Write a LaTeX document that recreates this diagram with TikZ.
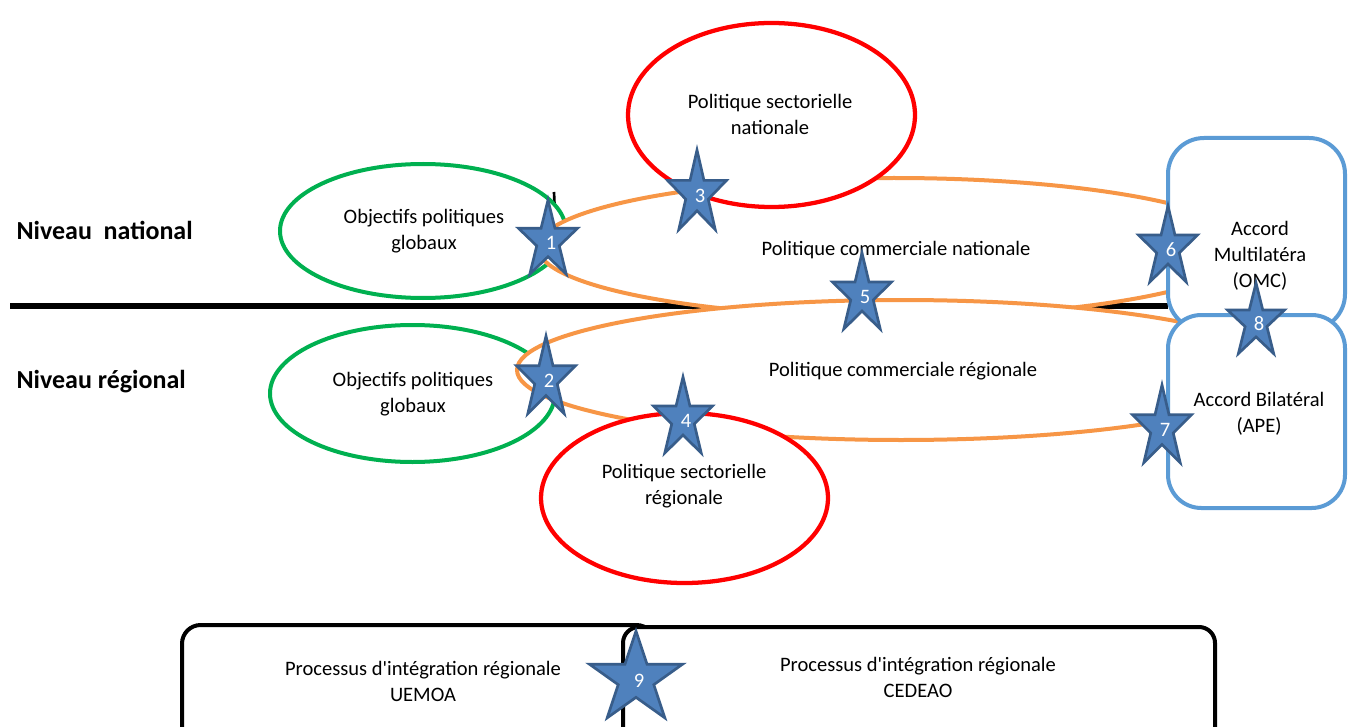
\documentclass[tikz,border=0pt]{standalone}
\usepackage{fontspec}
\setmainfont{Carlito}
\definecolor{vertobj}{HTML}{00B050}
\definecolor{rougesect}{HTML}{FF0000}
\definecolor{orangecom}{HTML}{F79646}
\definecolor{bleuaccord}{HTML}{5B9BD5}
\definecolor{etoilefond}{HTML}{4F81BD}
\definecolor{etoiletrait}{HTML}{385D8A}

\tikzset{every picture/.style={line width=0.75pt}}

\begin{document}
\begin{tikzpicture}[x=0.75pt,y=0.75pt,yscale=-1,xscale=1,
  txt/.style={inner sep=0.75pt, align=center, font=\fontsize{15.4}{19.5}\selectfont},
  niveau/.style={anchor=base west, inner sep=0pt, font=\fontsize{19.5}{23}\selectfont\bfseries},
  etoile/.style={fill=etoilefond, draw=etoiletrait, line width=2pt, line join=miter},
  chiffre/.style={text=white, inner sep=0pt, font=\fontsize{15.4}{15.4}\selectfont}]
	\useasboundingbox (0,0) rectangle (1348,727);
	\clip (0,0) rectangle (1348,727);
	
	%Straight Lines
	\draw [line width=4.5pt]  (10,306) -- (1168,306) ;
	%Straight Lines
	\draw [line width=2pt]  (554,192) -- (554.5,204) ;
	
	%Shape: Ellipse
	\draw [color=vertobj, line width=3pt]  (423,231) ellipse [x radius=143, y radius=67] ;
	%Shape: Ellipse
	\draw [color=vertobj, line width=3pt]  (412.5,393.5) ellipse [x radius=142.5, y radius=68.5] ;
	%Shape: Ellipse
	\draw [color=orangecom, fill=white, line width=3pt]  (894,247.5) ellipse [x radius=356, y radius=69.5] ;
	%Shape: Ellipse
	\draw [color=orangecom, fill=white, line width=3pt]  (901,370) ellipse [x radius=384, y radius=70] ;
	%Shape: Ellipse
	\draw [color=rougesect, fill=white, line width=3.2pt]  (771.5,115) ellipse [x radius=143.5, y radius=92] ;
	%Shape: Ellipse
	\draw [color=rougesect, fill=white, line width=3.2pt]  (684.5,498) ellipse [x radius=143.5, y radius=85] ;
	
	%Rounded Rect
	\draw [color=bleuaccord, fill=white, line width=3pt, rounded corners=27pt]  (1168,138) rectangle (1345,330) ;
	%Rounded Rect
	\draw [color=bleuaccord, fill=white, line width=3pt, rounded corners=25pt]  (1168,315) rectangle (1345,508) ;
	%Rounded Rect
	\draw [fill=white, line width=3pt, rounded corners=14pt]  (182,625) rectangle (655,760) ;
	%Rounded Rect
	\draw [fill=white, line width=3pt, rounded corners=12pt]  (623,627) rectangle (1215,760) ;
	
	% Text Node
	\node [niveau] (nivnat) at (16,240) {Niveau\ \ national};
	% Text Node
	\node [niveau] (nivreg) at (16,388) {Niveau régional};
	% Text Node
	\node [txt] (objnat) at (424,231) {Objectifs politiques\\globaux};
	% Text Node
	\node [txt] (objreg) at (413,394) {Objectifs politiques\\globaux};
	% Text Node
	\node [txt] (sectnat) at (770,114) {Politique sectorielle\\nationale};
	% Text Node
	\node [txt] (sectreg) at (684,486) {Politique sectorielle\\régionale};
	% Text Node
	\node [txt] (comnat) at (896,250) {Politique commerciale nationale};
	% Text Node
	\node [txt] (comreg) at (903,371) {Politique commerciale régionale};
	% Text Node
	\node [txt] (omc) at (1260,256) {Accord\\Multilatéra\\(OMC)};
	% Text Node
	\node [txt] (ape) at (1259,414) {Accord Bilatéral\\(APE)};
	% Text Node
	\node [txt] (uemoa) at (423,681) {Processus d\textquotesingle intégration régionale\\UEMOA};
	% Text Node
	\node [txt] (cedeao) at (918,677) {Processus d\textquotesingle intégration régionale\\CEDEAO};
	
	%Shape: Star
	\foreach \sx/\sy/\rx/\ry/\num in {548/241/31/41/1, 546/379/31/43/2, 697/194/31/44/3, 683/419/31/42/4, 862/295/31/42/5, 1168/248/31/42/6, 1162/428/31/43/7, 1256/322/30/39/8, 636/679/49/48/9}{
		\draw [etoile] plot [samples at={0,...,9}, variable=\k] ({\sx+\rx*(0.691+0.309*cos(180*\k))*cos(-90+36*\k)}, {\sy+\ry*(0.691+0.309*cos(180*\k))*sin(-90+36*\k)}) -- cycle ;
		\node [chiffre] (s\num) at (\sx+3,\sy+2) {\num};
	}
	
\end{tikzpicture}
\end{document}
